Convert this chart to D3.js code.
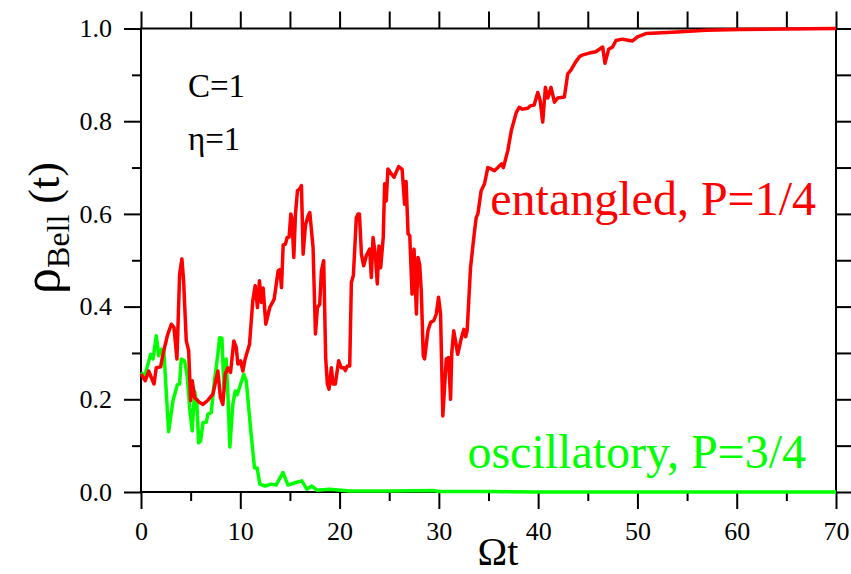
<!DOCTYPE html>
<html>
<head>
<meta charset="utf-8">
<script src="https://cdn.jsdelivr.net/npm/d3@7"></script>
<style>
  html, body { margin: 0; padding: 0; background: #fff; }
  svg { display: block; }
</style>
</head>
<body>
<svg id="chart" width="851" height="574"></svg>
<script>
// ---- data ----
const redT = [0.0,0.43,0.77,1.31,1.54,1.98,2.21,2.65,3.05,3.32,3.62,3.89,4.12,4.29,4.56,4.80,5.00,5.16,5.40,5.90,6.24,6.74,7.24,7.74,8.00,8.25,8.48,8.75,9.02,9.35,9.59,9.76,10.03,10.26,10.49,10.93,11.26,11.50,11.73,11.93,12.14,12.30,12.57,12.97,13.41,13.81,13.98,14.15,14.32,14.55,14.72,14.92,15.09,15.20,15.39,15.56,15.76,16.00,16.16,16.33,16.56,16.83,17.00,17.33,17.57,17.77,18.00,18.17,18.40,18.60,18.77,18.94,19.17,19.34,19.57,19.91,20.18,20.45,20.58,20.78,21.02,21.19,21.39,21.69,21.86,22.00,22.20,22.43,22.70,23.03,23.20,23.37,23.60,23.80,23.97,24.14,24.40,24.54,24.70,24.87,25.10,25.48,25.95,26.30,26.55,26.70,26.90,27.07,27.30,27.50,27.74,27.90,28.07,28.23,28.43,28.56,28.90,29.17,29.50,29.74,29.97,30.17,30.40,30.75,30.98,31.18,31.30,31.50,31.90,32.24,32.52,32.70,32.85,33.19,33.52,33.76,33.93,34.26,34.60,34.93,35.27,35.60,35.94,36.30,36.50,36.95,37.30,37.80,38.10,38.40,38.95,39.20,39.60,39.96,40.20,40.46,40.73,40.97,41.30,41.64,41.97,42.64,42.98,43.30,43.75,44.20,44.50,45.16,45.80,46.50,46.73,47.10,47.50,47.84,48.50,49.50,50.00,50.86,53.50,56.90,60.20,65.00,70.00];
const redV = [0.255,0.240,0.261,0.233,0.268,0.270,0.297,0.337,0.362,0.355,0.287,0.470,0.503,0.456,0.326,0.305,0.197,0.240,0.204,0.193,0.189,0.198,0.211,0.261,0.204,0.189,0.254,0.268,0.258,0.326,0.312,0.276,0.283,0.261,0.287,0.319,0.413,0.445,0.398,0.456,0.409,0.440,0.362,0.398,0.416,0.477,0.480,0.441,0.533,0.535,0.549,0.550,0.600,0.590,0.506,0.600,0.650,0.654,0.661,0.513,0.575,0.596,0.603,0.528,0.341,0.398,0.405,0.477,0.499,0.290,0.233,0.222,0.268,0.233,0.233,0.283,0.268,0.268,0.262,0.272,0.272,0.452,0.467,0.592,0.600,0.600,0.513,0.488,0.510,0.524,0.463,0.549,0.513,0.449,0.531,0.484,0.550,0.665,0.628,0.697,0.690,0.679,0.702,0.696,0.621,0.670,0.557,0.553,0.427,0.524,0.384,0.506,0.490,0.434,0.294,0.287,0.348,0.366,0.370,0.384,0.420,0.384,0.164,0.287,0.290,0.200,0.300,0.348,0.297,0.330,0.351,0.335,0.348,0.484,0.549,0.592,0.600,0.650,0.665,0.700,0.697,0.693,0.700,0.708,0.700,0.737,0.780,0.819,0.830,0.826,0.828,0.833,0.835,0.862,0.845,0.798,0.873,0.850,0.873,0.841,0.850,0.852,0.902,0.910,0.927,0.940,0.943,0.947,0.950,0.960,0.925,0.955,0.960,0.974,0.977,0.973,0.982,0.989,0.992,0.996,0.998,0.999,1.000];

const greenT = [0.0,0.37,0.97,1.21,1.54,1.78,2.05,2.30,2.78,3.22,3.65,3.89,4.05,4.39,4.65,4.90,5.16,5.40,5.63,5.80,6.00,6.24,6.57,6.74,7.07,7.40,7.74,7.92,8.15,8.35,8.58,8.75,8.95,9.25,9.49,9.69,9.92,10.36,10.60,11.03,11.43,11.70,11.97,12.50,13.10,13.60,14.30,14.80,15.50,16.20,16.70,17.20,17.70,19.00,21.00,25.00,29.50,30.00,35.00,40.00,70.00];
const greenV = [0.258,0.250,0.297,0.287,0.337,0.294,0.308,0.305,0.130,0.197,0.231,0.233,0.287,0.283,0.250,0.182,0.132,0.218,0.190,0.106,0.110,0.150,0.150,0.168,0.171,0.240,0.297,0.333,0.332,0.225,0.287,0.210,0.097,0.189,0.218,0.210,0.225,0.254,0.240,0.139,0.052,0.052,0.017,0.013,0.017,0.015,0.042,0.015,0.020,0.024,0.006,0.013,0.004,0.006,0.002,0.002,0.003,0.001,0.001,0.000,0.000];

const xMajorTicks = [0,10,20,30,40,50,60,70];
const xMinorTicks = [5,15,25,35,45,55,65];
const xTopTicks = [0,5,10,15,20,25,30,35,40,45,50,55,60,65,70];
const yMajorTicks = [0.0,0.2,0.4,0.6,0.8,1.0];
const yMinorTicks = [0.1,0.3,0.5,0.7,0.9];
const yRightTicks = [0.0,0.1,0.2,0.3,0.4,0.5,0.6,0.7,0.8,0.9,1.0];

// ---- drawing ----
const FONT = '"Liberation Serif"';
const svg = d3.select("#chart");
const L = 141, R = 836, T = 28.5, B = 492;
const x = d3.scaleLinear().domain([0, 70]).range([L, R]);
const y = d3.scaleLinear().domain([0, 1]).range([B, T]);

function styleAxis(g) {
  g.attr("font-family", FONT).attr("font-size", 26);
  g.select(".domain").remove();
  g.selectAll(".tick line").attr("stroke", "#000").attr("stroke-width", 2);
  g.selectAll(".tick text").attr("fill", "#000")
    .attr("font-family", FONT).attr("font-size", 26);
}

svg.append("g").attr("transform", `translate(0,${B})`)
  .call(d3.axisBottom(x).tickValues(xMajorTicks).tickSize(17).tickPadding(13).tickFormat(d3.format("d")))
  .call(styleAxis);
svg.append("g").attr("transform", `translate(0,${B})`)
  .call(d3.axisBottom(x).tickValues(xMinorTicks).tickSize(9).tickFormat(""))
  .call(styleAxis);
svg.append("g").attr("transform", `translate(0,${T})`)
  .call(d3.axisTop(x).tickValues(xTopTicks).tickSize(17).tickFormat(""))
  .call(styleAxis);
svg.append("g").attr("transform", `translate(${L},0)`)
  .call(d3.axisLeft(y).tickValues(yMajorTicks).tickSize(17).tickPadding(12).tickFormat(d3.format(".1f")))
  .call(styleAxis);
svg.append("g").attr("transform", `translate(${L},0)`)
  .call(d3.axisLeft(y).tickValues(yMinorTicks).tickSize(9).tickFormat(""))
  .call(styleAxis);
svg.append("g").attr("transform", `translate(${R},0)`)
  .call(d3.axisRight(y).tickValues(yRightTicks).tickSize(17).tickFormat(""))
  .call(styleAxis);

// frame
svg.append("rect").attr("x", L).attr("y", T).attr("width", R - L).attr("height", B - T)
  .attr("fill", "none").attr("stroke", "#000").attr("stroke-width", 2);

// curves
const line = d3.line().x(d => x(d[0])).y(d => y(d[1]));
const redData = redT.map((t, i) => [t, redV[i]]);
const greenData = greenT.map((t, i) => [t, greenV[i]]);

svg.append("path").datum(greenData).attr("d", line)
  .attr("fill", "none").attr("stroke", "#00ff00").attr("stroke-width", 3.5)
  .attr("stroke-linejoin", "round");
svg.append("path").datum(redData).attr("d", line)
  .attr("fill", "none").attr("stroke", "#ff0000").attr("stroke-width", 3.5)
  .attr("stroke-linejoin", "round");

// annotations
function addText(xp, yp, size, str, color, anchor) {
  return svg.append("text").attr("x", xp).attr("y", yp)
    .attr("font-family", FONT).attr("font-size", size)
    .attr("fill", color || "#000").attr("text-anchor", anchor || "start").text(str);
}
addText(188, 97, 33, "C=1");
addText(188, 150, 33, "η=1");
addText(816, 215, 48, "entangled, P=1/4", "#ff0000", "end");
addText(806, 468, 48, "oscillatory, P=3/4", "#00ff00", "end");

// axis titles
addText(498, 565, 40, "Ωt", "#000", "middle");

const yt = svg.append("text").attr("transform", "translate(59,228) rotate(-90)")
  .attr("font-family", FONT).attr("fill", "#000").attr("text-anchor", "middle");
yt.append("tspan").attr("font-size", 52).text("ρ");
yt.append("tspan").attr("font-size", 32).attr("dy", 10).text("Bell");
yt.append("tspan").attr("font-size", 44).attr("dy", -10).text(" (t)");
</script>
</body>
</html>
